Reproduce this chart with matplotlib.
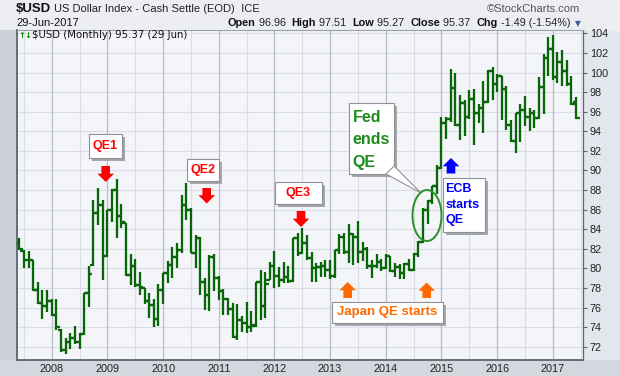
"""$USD monthly OHLC chart in StockCharts style, with QE annotations."""

import matplotlib

matplotlib.use("Agg")

import matplotlib.pyplot as plt  # noqa: E402
import pandas as pd  # noqa: E402
from matplotlib.patches import Ellipse, Polygon, Rectangle  # noqa: E402
from matplotlib.transforms import Affine2D  # noqa: E402

MONTHS = pd.date_range("2007-06-01", "2017-06-01", freq="MS")

OPEN = [
    82.6, 81.8, 80.9, 80.9, 77.8, 76.5, 76.2,
    76.7, 75.2, 73.7, 71.7, 72.5, 72.9, 72.5, 73.3, 77.5, 80.3, 85.7, 86.5,
    81.3, 86.0, 88.0, 85.3, 84.6, 79.3, 80.2, 78.3, 78.0, 76.7, 76.3, 74.8,
    77.8, 79.5, 80.3, 81.2, 81.9, 86.5, 86.0, 81.6, 83.1, 78.6, 77.3, 81.2,
    79.0, 77.7, 76.9, 75.9, 73.0, 74.7, 74.4, 74.0, 74.2, 78.6, 76.2, 78.8,
    80.2, 79.2, 78.8, 79.1, 78.7, 83.1, 81.6, 82.6, 81.1, 80.0, 80.1, 80.2,
    79.8, 79.2, 81.9, 83.2, 81.7, 83.5, 83.2, 81.7, 82.0, 80.2, 80.2, 80.7,
    80.0, 81.3, 79.7, 80.1, 79.5, 80.4, 79.8, 81.5, 82.7, 86.0, 86.9, 88.4,
    90.3, 94.8, 95.3, 98.4, 94.6, 96.9, 95.5, 97.3, 95.9, 96.4, 97.0, 100.2,
    98.8, 99.7, 98.3, 94.6, 93.0, 95.9, 96.2, 95.5, 95.9, 95.4, 98.5, 101.5,
    102.4, 99.5, 101.1, 100.2, 98.8, 96.96,
]
HIGH = [
    83.1, 81.9, 81.8, 80.9, 78.6, 77.8, 77.8,
    76.9, 76.9, 73.8, 72.9, 73.4, 74.1, 73.4, 77.5, 80.2, 87.0, 88.2, 87.0,
    86.0, 88.1, 89.1, 86.6, 84.6, 81.5, 81.0, 79.6, 78.0, 77.5, 76.9, 78.4,
    79.5, 80.8, 82.2, 82.6, 87.5, 88.7, 86.2, 83.4, 83.2, 79.0, 81.4, 81.5,
    79.2, 77.9, 77.0, 76.5, 76.4, 75.1, 76.6, 75.6, 78.6, 79.8, 79.6, 80.7,
    81.8, 80.1, 80.7, 80.2, 83.1, 83.6, 84.1, 83.4, 81.7, 80.5, 80.7, 80.9,
    80.9, 81.9, 83.5, 83.6, 84.5, 83.6, 84.8, 82.7, 82.2, 80.9, 81.5, 81.0,
    81.5, 81.3, 80.5, 80.4, 80.5, 81.0, 81.6, 82.8, 86.2, 87.0, 88.4, 90.6,
    95.5, 95.5, 100.4, 100.0, 97.7, 97.2, 98.2, 98.3, 96.8, 99.1, 100.3, 100.6,
    99.9, 99.7, 98.6, 95.2, 95.9, 96.8, 97.6, 96.4, 96.2, 99.5, 101.9, 103.6,
    103.8, 102.1, 102.3, 101.3, 99.7, 97.51,
]
LOW = [
    81.9, 80.0, 80.0, 77.7, 76.4, 74.8, 75.5,
    75.1, 73.7, 71.5, 71.3, 71.8, 72.3, 71.8, 73.2, 76.1, 80.2, 84.4, 78.8,
    81.2, 84.7, 83.1, 84.1, 79.2, 78.3, 78.1, 77.3, 76.4, 74.9, 74.0, 74.1,
    76.4, 78.5, 79.0, 80.0, 81.6, 84.9, 81.6, 80.0, 77.3, 75.7, 75.6, 77.7,
    76.8, 75.2, 75.2, 72.9, 72.7, 73.5, 73.4, 73.5, 74.0, 74.7, 74.9, 78.8,
    78.0, 78.1, 78.5, 78.5, 78.6, 81.3, 81.5, 80.9, 78.6, 78.6, 79.1, 79.1,
    78.9, 79.0, 81.5, 81.5, 80.5, 80.3, 80.5, 80.8, 79.9, 79.0, 80.0, 79.7,
    79.9, 79.6, 79.1, 78.9, 78.9, 79.7, 79.7, 81.2, 82.6, 84.5, 86.6, 87.6,
    90.1, 93.2, 95.0, 94.5, 93.1, 93.5, 95.3, 92.6, 94.9, 93.8, 96.9, 97.2,
    98.0, 95.2, 94.1, 92.9, 91.8, 92.9, 94.5, 94.0, 94.3, 95.3, 95.8, 99.6,
    99.2, 98.9, 98.6, 98.6, 96.7, 95.27,
]
CLOSE = [
    82.0, 80.9, 80.9, 77.8, 76.5, 76.2, 76.7,
    75.2, 74.0, 71.7, 72.5, 72.9, 72.5, 73.3, 77.5, 79.4, 85.7, 86.5, 81.3,
    86.0, 88.0, 85.3, 84.7, 79.3, 80.2, 78.3, 78.1, 76.7, 76.3, 74.8, 77.8,
    79.5, 80.3, 81.2, 81.9, 86.5, 86.0, 81.6, 83.1, 78.6, 77.3, 81.2, 79.0,
    77.7, 76.9, 75.9, 73.0, 74.7, 74.4, 74.0, 74.1, 78.6, 76.2, 78.4, 80.2,
    79.2, 78.8, 79.1, 78.7, 83.1, 81.6, 82.6, 81.1, 80.0, 80.1, 80.2, 79.8,
    79.2, 81.9, 83.2, 81.7, 83.5, 83.2, 81.7, 82.0, 80.2, 80.2, 80.7, 80.0,
    81.3, 79.7, 80.1, 79.5, 80.4, 79.8, 81.5, 82.7, 86.0, 86.9, 88.4, 90.3,
    94.8, 95.3, 98.4, 94.6, 96.9, 95.5, 97.3, 95.9, 96.4, 97.0, 100.2, 98.8,
    99.7, 98.3, 94.6, 93.0, 95.9, 96.2, 95.5, 95.9, 95.4, 98.5, 101.5, 102.4,
    99.5, 101.1, 100.2, 98.8, 96.8, 95.37,
]

Y_TICKS = list(range(72, 105, 2))
YEARS = list(range(2008, 2018))

W, H = 620, 376
BAR = "#086608"
FRAME = "#5d6472"
GRID = "#dadde5"
GRID_YEAR = "#b9bdc6"

fig = plt.figure(figsize=(W / 100, H / 100), dpi=100)
fig.patch.set_facecolor("#e3e6ec")
# Pixel coordinates, y downwards, for the page furniture and annotations.
PX = Affine2D().scale(1 / W, -1 / H).translate(0, 1) + fig.transFigure

# Outer strips
fig.add_artist(Rectangle((0, 0), W, 30, transform=PX, color="#eceef2", zorder=0))
fig.add_artist(Rectangle((0, 30), 17, 330, transform=PX, color="#cdd2da", zorder=0))
fig.add_artist(Rectangle((0, 360), W, 16, transform=PX, color="#d3d7de", zorder=0))

ax = fig.add_axes([17 / W, 1 - 360 / H, 566 / W, 330 / H])
ax.set_facecolor("#f4f5f9")
ax.set_xlim(-7.48, 114.5)
ax.set_ylim(70.64, 104.35)

x = (MONTHS.year - 2008) * 12 + MONTHS.month - 1

# Grid: every 2 points, half-year and year lines
for v in Y_TICKS:
    ax.axhline(v, color=GRID, linewidth=0.8, zorder=0)
for m in range(-6, 115, 12):
    ax.axvline(m, color=GRID, linewidth=0.8, zorder=0)
for m in range(0, 115, 12):
    ax.axvline(m, color=GRID_YEAR, linewidth=0.9, zorder=0)

# OHLC bars
tick = 0.75
ax.vlines(x, LOW, HIGH, color=BAR, linewidth=1.65, zorder=3)
ax.hlines(OPEN, x - tick, x, color=BAR, linewidth=1.65, zorder=3)
ax.hlines(CLOSE, x, x + tick, color=BAR, linewidth=1.65, zorder=3)

ax.yaxis.tick_right()
ax.set_yticks(Y_TICKS)
ax.set_yticklabels([str(v) for v in Y_TICKS])
ax.tick_params(axis="y", direction="out", length=3, width=0.8, color=FRAME,
               labelsize=7.8, labelcolor="#222222", pad=2)
ax.set_xticks([(yr - 2008) * 12 for yr in YEARS])
ax.set_xticklabels([str(yr) for yr in YEARS])
ax.tick_params(axis="x", length=0, labelsize=7.8, labelcolor="#222222", pad=3)
for lab in ax.get_xticklabels() + ax.get_yticklabels():
    lab.set_family("Liberation Sans")
for side in ("left", "bottom"):
    ax.spines[side].set_color(FRAME)
    ax.spines[side].set_linewidth(1.3)
ax.spines["right"].set_color(FRAME)
ax.spines["right"].set_linewidth(0.9)
ax.spines["top"].set_color("#9aa0ab")
ax.spines["top"].set_linewidth(0.8)

renderer = fig.canvas.get_renderer()
HEAD = "Liberation Sans"


def text_run(x0, y0, pieces, size):
    """Write text pieces one after another from x0 (pixel coordinates)."""
    for s, weight, color in pieces:
        t = fig.text(x0, y0, s, transform=PX, fontsize=size, fontweight=weight,
                     color=color, family=HEAD, va="center", ha="left")
        x0 += t.get_window_extent(renderer).width
    return x0


# Header
x_end = text_run(16, 9, [("$USD", "bold", "#111111")], 9.5)
text_run(x_end + 3, 9.5, [("US Dollar Index - Cash Settle (EOD)", "normal", "#222222"),
                          ("  ICE", "normal", "#222222")], 8)
fig.text(580, 9, "\u00a9StockCharts.com", transform=PX, fontsize=8, color="#555555",
         ha="right", va="center", family=HEAD)
text_run(16, 23.5, [("29-Jun-2017", "normal", "#111111")], 8)
text_run(228, 23.5, [("Open", "bold", "#111111"), (" 96.96  ", "normal", "#222222"),
                     ("High", "bold", "#111111"), (" 97.51  ", "normal", "#222222"),
                     ("Low", "bold", "#111111"), (" 95.27  ", "normal", "#222222"),
                     ("Close", "bold", "#111111"), (" 95.37  ", "normal", "#222222"),
                     ("Chg", "bold", "#111111"), (" -1.49 (-1.54%)", "normal", "#222222")],
         7.8)
fig.text(578, 24, "\u25bc", transform=PX, fontsize=5.5, color="#3c5d9c",
         ha="center", va="center", family="DejaVu Sans")

# Legend line inside the plot
fig.text(18.5, 35.5, "\u2191\u2193", transform=PX, fontsize=6, color="#0a8a0a",
         fontweight="bold", ha="left", va="center", family="DejaVu Sans")
fig.text(31.5, 35.5, "$USD (Monthly) 95.37 (29 Jun)", transform=PX, fontsize=7.3,
         color="#111111", ha="left", va="center", family="DejaVu Sans")


def note_box(x0, y0, x1, y1):
    fig.add_artist(Rectangle((x0 + 3, y0 + 3), x1 - x0, y1 - y0, transform=PX,
                             facecolor="#a3a6ab", edgecolor="none", zorder=5))
    fig.add_artist(Rectangle((x0, y0), x1 - x0, y1 - y0, transform=PX,
                             facecolor="white", edgecolor="#8e9196", linewidth=0.8, zorder=6))


def block_arrow(cx, tail, tip, color):
    """Thick arrow in pixel coordinates, pointing from tail to tip (vertical)."""
    sw, hw = 4.3, 8.3
    hl = 8.3 if tip > tail else -8.3
    neck = tip - hl
    pts = [(cx - sw, tail), (cx + sw, tail), (cx + sw, neck), (cx + hw, neck),
           (cx, tip), (cx - hw, neck), (cx - sw, neck)]
    fig.add_artist(Polygon(pts, closed=True, transform=PX, facecolor=color,
                           edgecolor="none", zorder=7))


def note_text(xc, yc, s, color, size, ha="center"):
    fig.text(xc, yc, s, transform=PX, fontsize=size, fontweight="bold", color=color,
             ha=ha, va="center", family="Liberation Sans", zorder=8)


RED = "#ff0000"
ORANGE = "#ff6a00"
BLUE = "#0000ff"
GREEN = "#1d8c1d"

# QE1 / QE2 / QE3
note_box(89, 134, 122, 158)
note_text(105.5, 146.5, "QE1", RED, 9)
block_arrow(105.7, 166, 182, RED)
note_box(187, 159, 219, 181)
note_text(203, 170.5, "QE2", RED, 9)
block_arrow(206.7, 188, 203.5, RED)
note_box(275, 182, 322, 203.5)
note_text(298.5, 193, "QE3", RED, 9)
block_arrow(301, 211, 227, RED)

# Japan QE
block_arrow(347.7, 298, 282, ORANGE)
block_arrow(426.7, 298, 282.5, ORANGE)
note_box(332, 302, 443, 323)
note_text(387.5, 312.5, "Japan QE starts", ORANGE, 9.5)

# Fed ends QE callout
note_box(349, 103, 394, 174)
fig.add_artist(Polygon([(386, 174), (394, 166), (421, 193)], closed=True, transform=PX,
                       facecolor="white", edgecolor="#8e9196", linewidth=0.8, zorder=6))
fig.add_artist(Rectangle((386.6, 172.5), 7, 1.5, transform=PX, facecolor="white",
                         edgecolor="none", zorder=6))
for yy, s in [(118, "Fed"), (140, "ends"), (162, "QE")]:
    note_text(352.5, yy, s, GREEN, 11.5, ha="left")
fig.add_artist(Ellipse((427, 215.5), 29, 51, transform=PX, facecolor="none",
                       edgecolor="#279227", linewidth=1.4, zorder=7))

# ECB starts QE
block_arrow(451, 173.5, 158, BLUE)
note_box(442.5, 177.5, 484.5, 231.5)
for yy, s in [(189, "ECB"), (205, "starts"), (220.5, "QE")]:
    note_text(445.5, yy, s, BLUE, 9, ha="left")

fig.savefig("out.png", dpi=100, facecolor=fig.get_facecolor())
